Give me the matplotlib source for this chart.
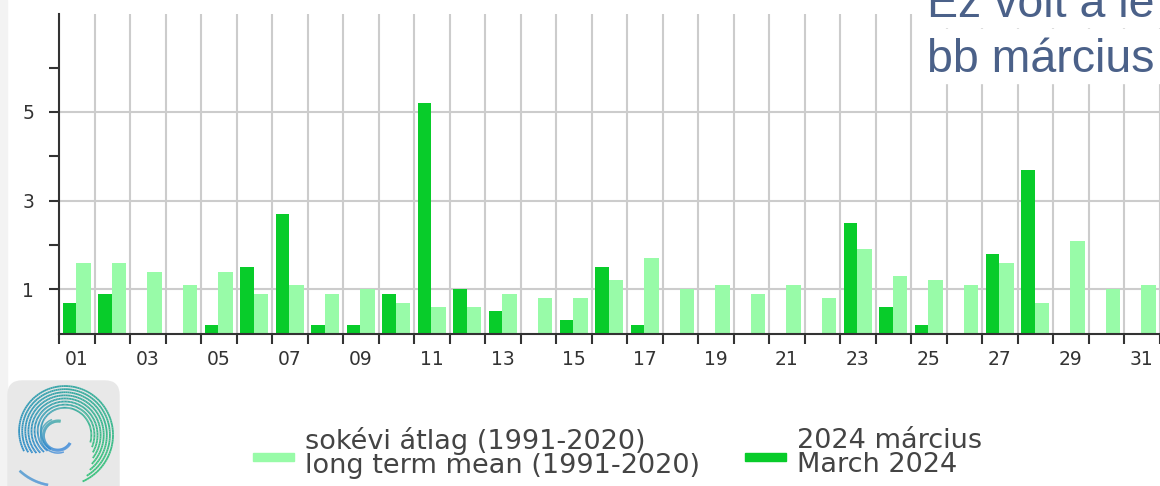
import numpy as np
import matplotlib.pyplot as plt
from matplotlib.patches import Rectangle, FancyBboxPatch
from matplotlib.collections import LineCollection

# napi csapadék, 2024 március vs sokévi átlag
days = list(range(1, 32))
march_2024 = [0.7, 0.9, 0, 0, 0.2, 1.5, 2.7, 0.2, 0.2, 0.9,
              5.2, 1.0, 0.5, 0, 0.3, 1.5, 0.2, 0, 0, 0,
              0, 0, 2.5, 0.6, 0.2, 0, 1.8, 3.7, 0, 0, 0]
long_term = [1.6, 1.6, 1.4, 1.1, 1.4, 0.9, 1.1, 0.9, 1.0, 0.7,
             0.6, 0.6, 0.9, 0.8, 0.8, 1.2, 1.7, 1.0, 1.1, 0.9,
             1.1, 0.8, 1.9, 1.3, 1.2, 1.1, 1.6, 0.7, 2.1, 1.0, 1.1]
label_days = ["01", "03", "05", "07", "09", "11", "13", "15", "17", "19",
              "21", "23", "25", "27", "29", "31"]

DARK = '#08CC2A'
LIGHT = '#98FBA8'
W, H = 1160, 486

fig = plt.figure(figsize=(W / 100, H / 100), dpi=100)

# háttér réteg pixel koordinátákban (logó, csík)
bg = fig.add_axes([0, 0, 1, 1], zorder=-5)
bg.set_xlim(0, W)
bg.set_ylim(H, 0)
bg.axis('off')
bg.add_patch(Rectangle((0, 0), 7, H, color='#f3f3f3'))
bg.add_patch(FancyBboxPatch((8, 381), 111, 130, boxstyle='round,pad=0,rounding_size=14',
                            color='#e8e8e8'))

blue = np.array([0.20, 0.52, 0.85])
green = np.array([0.24, 0.76, 0.50])


def strand(cx, cy, r0, r1, a0, a1, lw):
    th = np.linspace(a0, a1, 100)
    r = np.linspace(r0, r1, 100)
    xs = cx + r * np.cos(np.radians(th))
    ys = cy - r * np.sin(np.radians(th))
    pts = np.column_stack([xs, ys]).reshape(-1, 1, 2)
    segs = np.concatenate([pts[:-1], pts[1:]], axis=1)
    t = np.clip((260 - th[:-1]) / 300, 0, 1)
    cols = [tuple(blue * (1 - v) + green * v) for v in t]
    bg.add_collection(LineCollection(segs, colors=cols, linewidths=lw))


for k in range(8):
    off = 7 - k
    a0 = 205 + off * 4
    a1 = -68 + off * 7
    rr0 = 43 + (205 - a0) * 0.034 - 3.1 * off
    rr1 = 43 + (205 - a1) * 0.034 - 3.1 * off
    strand(63, 433, rr0, rr1, a0, a1, 1.3)
strand(58, 436, 15, 14, 80, 330, 2.2)
strand(58, 436, 17.5, 17, 110, 290, 1.0)
strand(63, 433, 57.5, 54, 221, 254, 1.8)

ax = fig.add_axes([59 / W, (H - 333.6) / H, (1159.5 - 59) / W, (333.6 - 14) / H])

x = np.array(days)
ax.bar(x - 0.39, march_2024, width=0.37, align='edge', color=DARK, zorder=3)
ax.bar(x - 0.02, long_term, width=0.42, align='edge', color=LIGHT, zorder=3)

ax.set_xlim(0.5, 31.5)
ax.set_ylim(0, 7.21)

ax.set_xticks(np.arange(0.5, 32, 1))
ax.set_xticklabels([])
ax.set_xticks([int(d) for d in label_days], label_days, minor=True)
ax.set_yticks([1, 3, 5], ['1', '3', '5'])
ax.set_yticks([2, 4, 6], minor=True)

ax.tick_params(axis='x', which='major', length=7, width=1.5, color='#333333', direction='out')
ax.tick_params(axis='x', which='minor', length=0, pad=12, labelsize=13.5, labelcolor='#333333')
ax.tick_params(axis='y', which='both', length=7, width=1.5, color='#333333', pad=11,
               labelsize=13.5, labelcolor='#333333')

ax.grid(True, axis='x', which='major', color='#cccccc', linewidth=1.5, zorder=0)
ax.grid(True, axis='y', which='major', color='#cccccc', linewidth=1.5, zorder=0)
ax.set_axisbelow(True)
ax.patch.set_alpha(0)
for s in ['top', 'right']:
    ax.spines[s].set_visible(False)
for s in ['left', 'bottom']:
    ax.spines[s].set_color('#333333')
    ax.spines[s].set_linewidth(1.5)
    ax.spines[s].set_zorder(4)

# jelmagyarázat
fig.patches.append(Rectangle((253 / W, (H - 461) / H), 41 / W, 8 / H,
                             transform=fig.transFigure, color=LIGHT))
fig.text(305 / W, (H - 453) / H, "sokévi átlag (1991-2020)\nlong term mean (1991-2020)",
         fontsize=19.5, color='#444444', va='center', ha='left', linespacing=0.9)
fig.patches.append(Rectangle((745 / W, (H - 461) / H), 41 / W, 8 / H,
                             transform=fig.transFigure, color=DARK))
fig.text(797 / W, (H - 453) / H, "2024 március\nMarch 2024",
         fontsize=19.5, color='#444444', va='center', ha='left', linespacing=0.9)

# felirat a dia szövegéből, fehér háttérrel
fig.patches.append(Rectangle((918 / W, (H - 27) / H), 242 / W, 27 / H,
                             transform=fig.transFigure, color='white', zorder=10))
fig.patches.append(Rectangle((918 / W, (H - 83) / H), 242 / W, 54 / H,
                             transform=fig.transFigure, color='white', zorder=10))
fig.text(927 / W, (H - 17) / H, "Ez volt a le", fontsize=33.5, family='Liberation Sans',
         color='#4B6189', va='baseline', ha='left', zorder=11)
fig.text(927 / W, (H - 72) / H, "bb március", fontsize=33.5, family='Liberation Sans',
         color='#4B6189', va='baseline', ha='left', zorder=11)

fig.savefig('out.png', dpi=100)
